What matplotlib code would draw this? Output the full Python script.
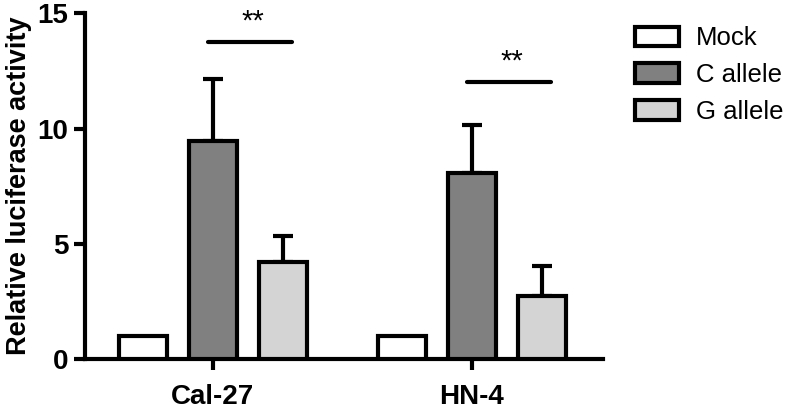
import numpy as np
import matplotlib
matplotlib.use("Agg")
import matplotlib.pyplot as plt

# data
cell_lines = ["Cal-27", "HN-4"]
groups = ["Mock", "C allele", "G allele"]
mock = [1.0, 1.0]
c_allele = [9.45, 8.05]
g_allele = [4.2, 2.75]
mock_err = [0.0, 0.0]
c_err = [2.7, 2.1]
g_err = [1.15, 1.3]
sig_heights = [13.75, 12.0]
sig_labels = ["**", "**"]

colors = ["#ffffff", "#808080", "#d4d4d4"]

plt.rcParams.update({
    "font.family": ["Liberation Sans", "DejaVu Sans"],
})

fig = plt.figure(figsize=(7.89, 4.11), dpi=100)
ax = fig.add_axes([85 / 789, 52 / 411, 518 / 789, 345.7 / 411])

x = np.arange(len(cell_lines))
offset = 0.27
width = 0.185
lw = 3.0

series = [(mock, mock_err), (c_allele, c_err), (g_allele, g_err)]
for i, (vals, errs) in enumerate(series):
    pos = x + (i - 1) * offset
    ax.bar(pos, vals, width, color=colors[i], edgecolor="black",
           linewidth=lw, label=groups[i], zorder=3)
    has_err = [e > 0 for e in errs]
    if any(has_err):
        ax.errorbar(pos, vals, yerr=[np.zeros(len(errs)), errs], fmt="none",
                    ecolor="black", elinewidth=lw, capsize=7, capthick=lw,
                    zorder=2)

# significance bars
for xi, h, lab in zip(x, sig_heights, sig_labels):
    ax.plot([xi - 0.02, xi + offset + 0.035], [h, h], color="black",
            linewidth=lw, solid_capstyle="round", clip_on=False)
    ax.text(xi + offset / 2 + 0.02, h + 0.3, lab, ha="center", va="bottom",
            fontsize=21)

ax.set_xlim(-0.494, 1.506)
ax.set_ylim(0, 15)
ax.set_yticks([0, 5, 10, 15])
ax.set_xticks(x)
ax.set_xticklabels(cell_lines, fontsize=20, fontweight="bold")
for t in ax.get_yticklabels():
    t.set_fontsize(20)
    t.set_fontweight("bold")
ax.set_ylabel("Relative luciferase activity", fontsize=19.5, fontweight="bold",
              labelpad=4)

for s in ["top", "right"]:
    ax.spines[s].set_visible(False)
for s in ["left", "bottom"]:
    ax.spines[s].set_linewidth(lw)
ax.tick_params(axis="both", width=lw, length=8, direction="out")
ax.tick_params(axis="x", pad=10)
ax.tick_params(axis="y", pad=4)

leg = ax.legend(loc="upper left", bbox_to_anchor=(625 / 789, 1 - 16 / 411),
                bbox_transform=fig.transFigure, frameon=False, fontsize=18.5,
                handlelength=1.7, handleheight=0.8, labelspacing=0.5,
                handletextpad=0.65, borderaxespad=0)

fig.savefig("out.png", dpi=100)
